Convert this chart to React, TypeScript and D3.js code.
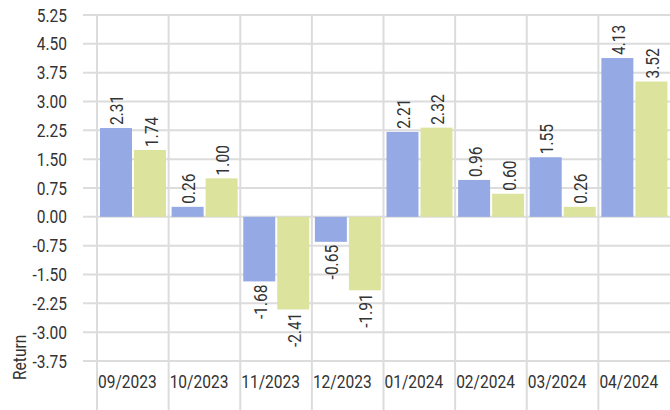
import { useEffect, useRef } from "react";
import * as d3 from "d3";

const months = ["09/2023", "10/2023", "11/2023", "12/2023", "01/2024", "02/2024", "03/2024", "04/2024"];
const seriesNames = ["A", "B"];
const blueValues = [2.31, 0.26, -1.68, -0.65, 2.21, 0.96, 1.55, 4.13];
const greenValues = [1.74, 1.0, -2.41, -1.91, 2.32, 0.6, 0.26, 3.52];
const yTicks = [5.25, 4.5, 3.75, 3.0, 2.25, 1.5, 0.75, 0, -0.75, -1.5, -2.25, -3.0, -3.75];
const colors = ["#95a9e4", "#dbe39c"];

const W = 670;
const H = 410;
const FONT = "Roboto, 'DejaVu Sans', sans-serif";
const FS = 18.5;
// the reference uses a condensed face; squeeze Roboto horizontally
const SQ = "scale(0.84,1)";

const App = () => {
  const svgRef = useRef<SVGSVGElement>(null);

  useEffect(() => {
    const svg = d3.select(svgRef.current);
    svg.selectAll("*").remove();

    const margin = { top: 15, right: 0, left: 97, bottom: 49 };

    const x0 = d3.scaleBand().domain(months).range([margin.left, W - margin.right]);
    const x1 = d3.scaleBand().domain(seriesNames).range([3, 69]).paddingInner(0.06);
    const y = d3.scaleLinear().domain([-3.75, 5.25]).range([H - margin.bottom, margin.top]);

    const data = months.map((m, i) => ({ month: m, values: [blueValues[i], greenValues[i]] }));

    // horizontal grid
    svg
      .append("g")
      .selectAll("line")
      .data(yTicks)
      .join("line")
      .attr("x1", 83)
      .attr("x2", W)
      .attr("y1", (d) => y(d))
      .attr("y2", (d) => y(d))
      .attr("stroke", "#dcdcdc")
      .attr("stroke-width", 2);

    // vertical grid
    svg
      .append("g")
      .selectAll("line")
      .data(months)
      .join("line")
      .attr("x1", (d) => x0(d)!)
      .attr("x2", (d) => x0(d)!)
      .attr("y1", margin.top)
      .attr("y2", H)
      .attr("stroke", "#dcdcdc")
      .attr("stroke-width", 2);

    const txt = svg.append("g").attr("font-family", FONT).attr("font-size", FS).attr("fill", "#333");

    // y tick labels
    txt
      .append("g")
      .selectAll("text")
      .data(yTicks)
      .join("text")
      .attr("transform", (d) => `translate(67,${y(d)}) ${SQ}`)
      .attr("dy", "0.36em")
      .attr("text-anchor", "end")
      .text((d) => d.toFixed(2));

    // bars
    const groups = svg
      .append("g")
      .selectAll("g")
      .data(data)
      .join("g")
      .attr("transform", (d) => `translate(${x0(d.month)},0)`);

    groups
      .selectAll("rect")
      .data((d) => d.values.map((v, i) => ({ key: seriesNames[i], v, i })))
      .join("rect")
      .attr("x", (d) => x1(d.key)!)
      .attr("width", x1.bandwidth())
      .attr("y", (d) => y(Math.max(0, d.v)))
      .attr("height", (d) => Math.abs(y(d.v) - y(0)))
      .attr("fill", (d) => colors[d.i]);

    groups
      .selectAll("text")
      .data((d) => d.values.map((v, i) => ({ key: seriesNames[i], v, i })))
      .join("text")
      .attr("transform", (d) => {
        const cx = x1(d.key)! + x1.bandwidth() / 2 + 7.5;
        const yy = d.v >= 0 ? y(d.v) - 3 : y(d.v) + 3;
        return `translate(${cx},${yy}) rotate(-90) ${SQ}`;
      })
      .attr("text-anchor", (d) => (d.v >= 0 ? "start" : "end"))
      .attr("font-family", FONT)
      .attr("font-size", FS)
      .attr("fill", "#333")
      .text((d) => d.v.toFixed(2));

    // x category labels
    txt
      .append("g")
      .selectAll("text")
      .data(months)
      .join("text")
      .attr("transform", (d) => `translate(${x0(d)! + 1},388) ${SQ}`)
      .text((d) => d);

    // axis title
    txt
      .append("text")
      .attr("transform", `translate(25.5,380) rotate(-90) ${SQ}`)
      .text("Return");
  }, []);

  return (
    <svg
      ref={svgRef}
      width={W}
      height={H}
      style={{ position: "absolute", left: 0, top: 0, background: "#fff" }}
    />
  );
};

export default App;
